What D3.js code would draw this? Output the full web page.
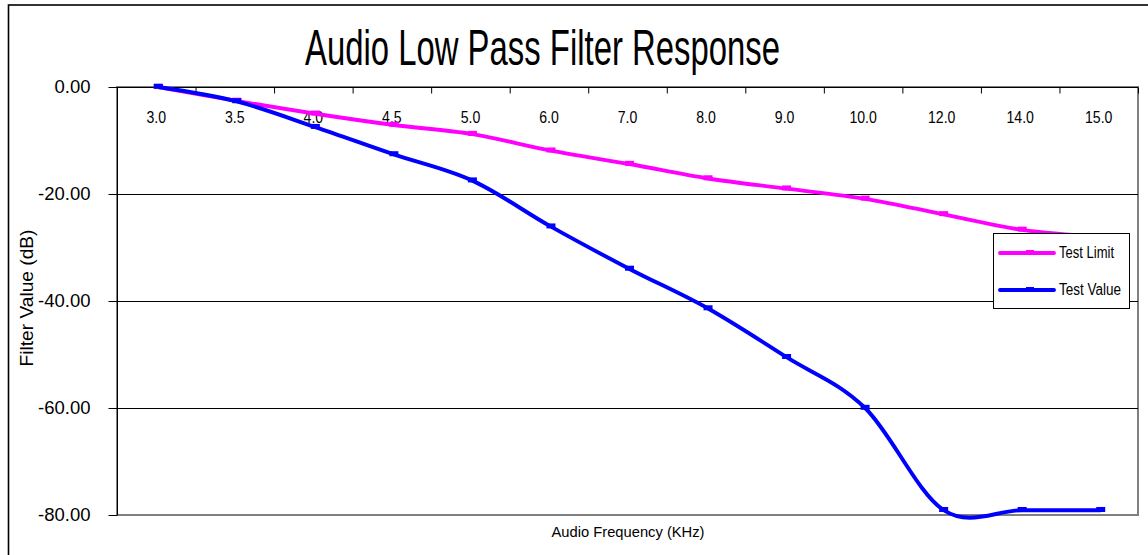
<!DOCTYPE html>
<html>
<head>
<meta charset="utf-8">
<script src="https://cdn.jsdelivr.net/npm/d3@7"></script>
<style>
  html, body { margin: 0; padding: 0; background: #fff; }
  svg { display: block; }
  text { font-family: "Liberation Sans", Arial, sans-serif; fill: #000; }
  .narrow { font-family: "Liberation Sans Narrow", "Arial Narrow", "Liberation Sans", Arial, sans-serif; }
</style>
</head>
<body>
<svg id="chart" width="1148" height="555"></svg>
<script>
// ---- data ----
const categories = ["3.0","3.5","4.0","4.5","5.0","6.0","7.0","8.0","9.0","10.0","12.0","14.0","15.0"];
const testLimit  = [0, -2.6, -5.0, -7.1, -8.8, -11.9, -14.4, -17.1, -19.0, -20.9, -23.8, -26.7, -28.0];
const testValue  = [0, -2.7, -7.5, -12.6, -17.5, -26.1, -34.0, -41.4, -50.5, -60.0, -79.1, -79.1, -79.1];
const yTicks = [0, -20, -40, -60, -80];
const seriesNames = ["Test Limit", "Test Value"];
const seriesColors = ["#FF00FF", "#0000FF"];
const titleText = "Audio Low Pass Filter Response";
const xTitle = "Audio Frequency (KHz)";
const yTitle = "Filter Value (dB)";

// ---- layout ----
const L = 117, R = 1138, T = 87, B = 515;
const svg = d3.select("#chart");

const x = d3.scaleBand().domain(categories).range([L, R]).padding(0);
const xb = d3.scaleLinear().domain([0, categories.length]).range([L, R]);
const y = d3.scaleLinear().domain([-80, 0]).range([B, T]);
const px = c => x(c) + x.bandwidth() / 2 + 2;

// background + outer border
svg.append("rect").attr("x", 0).attr("y", 0).attr("width", 1148).attr("height", 555).attr("fill", "#fff");
svg.append("rect").attr("x", 8.5).attr("y", 5).attr("width", 1200).attr("height", 600)
  .attr("fill", "none").attr("stroke", "#000").attr("stroke-width", 1.6);

// title
svg.append("text").attr("class", "narrow").attr("x", 542.5).attr("y", 65).attr("text-anchor", "middle")
  .style("font-size", "50px").attr("textLength", 475).attr("lengthAdjust", "spacingAndGlyphs")
  .text(titleText);

// plot area border (gray)
svg.append("rect").attr("x", L).attr("y", T).attr("width", R - L).attr("height", B - T)
  .attr("fill", "none").attr("stroke", "#808080").attr("stroke-width", 2);

// gridlines
svg.append("g").selectAll("line").data(yTicks.filter(v => v !== 0 && v !== -80)).join("line")
  .attr("x1", L).attr("x2", R).attr("y1", d => y(d) + 0.5).attr("y2", d => y(d) + 0.5)
  .attr("stroke", "#000").attr("stroke-width", 1);

// y axis
const yAxis = svg.append("g").attr("transform", `translate(${L + 0.5},0)`)
  .call(d3.axisLeft(y).tickValues(yTicks).tickSize(9).tickPadding(18).tickFormat(d => d.toFixed(2)));
yAxis.select(".domain").attr("stroke", "#000").attr("d", `M0,${T}V${B}`);
yAxis.selectAll(".tick line").attr("stroke", "#000");
yAxis.selectAll(".tick text").style("font-size", "18.5px").attr("font-family", null).attr("dy", "0.28em");

// top category axis: boundary ticks
const xTickAxis = svg.append("g").attr("transform", `translate(0,${T + 0.5})`)
  .call(d3.axisBottom(xb).tickValues(d3.range(1, categories.length + 1)).tickSize(6).tickFormat(""));
xTickAxis.select(".domain").attr("stroke", "#000").attr("d", `M${L},0H${R}`);
xTickAxis.selectAll(".tick line").attr("stroke", "#000");

// category labels
const xLab = svg.append("g").attr("transform", `translate(0,${T})`)
  .call(d3.axisBottom(x).tickSize(0).tickPadding(25));
xLab.select(".domain").remove();
xLab.selectAll(".tick text").style("font-size", "16px").attr("font-family", null)
  .each(function () {
    const w = this.getComputedTextLength();
    d3.select(this).attr("textLength", w * 0.88).attr("lengthAdjust", "spacingAndGlyphs");
  });

// axis titles
svg.append("text").attr("x", 628).attr("y", 537).attr("text-anchor", "middle")
  .style("font-size", "15px").attr("textLength", 153).attr("lengthAdjust", "spacingAndGlyphs")
  .text(xTitle);
svg.append("text").attr("transform", "translate(33,298) rotate(-90)").attr("text-anchor", "middle")
  .style("font-size", "19px").attr("textLength", 137).attr("lengthAdjust", "spacingAndGlyphs")
  .text(yTitle);

// series
const series = [testLimit, testValue];
const line = d3.line().x((d, i) => px(categories[i])).y(d => y(d)).curve(d3.curveCardinal.tension(0));
series.forEach((vals, si) => {
  const g = svg.append("g");
  g.append("path").attr("d", line(vals)).attr("fill", "none")
    .attr("stroke", seriesColors[si]).attr("stroke-width", 3.9).attr("stroke-linejoin", "round");
  g.selectAll("rect").data(vals).join("rect")
    .attr("x", (d, i) => px(categories[i]) - 4.5).attr("y", d => y(d) - 3.2)
    .attr("width", 9).attr("height", 5).attr("fill", seriesColors[si]);
});

// legend
const lg = svg.append("g");
lg.append("rect").attr("x", 993.5).attr("y", 233.5).attr("width", 136).attr("height", 75)
  .attr("fill", "#fff").attr("stroke", "#000").attr("stroke-width", 1);
const legendY = [253, 290];
const legendW = [55, 62];
seriesNames.forEach((n, i) => {
  lg.append("line").attr("x1", 1000).attr("x2", 1054).attr("y1", legendY[i]).attr("y2", legendY[i])
    .attr("stroke", seriesColors[i]).attr("stroke-width", 3.9).attr("stroke-linecap", "round");
  lg.append("rect").attr("x", 1026).attr("y", legendY[i] - 3).attr("width", 8).attr("height", 5)
    .attr("fill", seriesColors[i]);
  lg.append("text").attr("class", "narrow").attr("x", 1059).attr("y", legendY[i] + 5)
    .style("font-size", "16px").attr("textLength", legendW[i]).attr("lengthAdjust", "spacingAndGlyphs")
    .text(n);
});
</script>
</body>
</html>
